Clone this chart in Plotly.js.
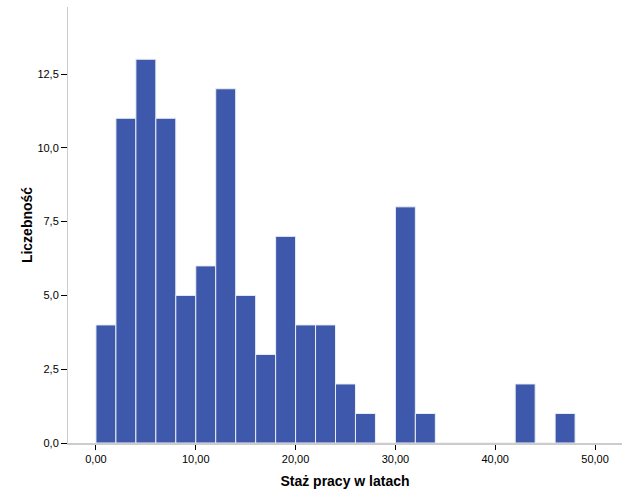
<!DOCTYPE html>
<html>
<head>
<meta charset="utf-8">
<script src="https://cdn.plot.ly/plotly-3.0.1.min.js"></script>
<style>html,body{margin:0;padding:0;background:#fff;}#chart{width:629px;height:504px;}</style>
</head>
<body>
<div id="chart"></div>
<script>
// Bin starts (years) and counts, bin width 2
const binStarts = [0, 2, 4, 6, 8, 10, 12, 14, 16, 18, 20, 22, 24, 26, 28, 30, 32, 34, 36, 38, 40, 42, 44, 46];
const counts    = [4, 11, 13, 11, 5, 6, 12, 5, 3, 7, 4, 4, 2, 1, 0, 8, 1, 0, 0, 0, 0, 2, 0, 1];
const binWidth = 2;
const xTickVals = [0, 10, 20, 30, 40, 50];
const yTickVals = [0, 2.5, 5, 7.5, 10, 12.5];

const centers = binStarts.map(s => s + binWidth / 2);

const trace = {
  type: 'bar',
  x: centers,
  y: counts,
  width: binWidth,
  marker: { color: 'rgb(62,88,171)', line: { color: 'rgba(235,238,245,1)', width: 1 } },
  hoverinfo: 'x+y'
};

const layout = {
  width: 629, height: 504,
  margin: { l: 68, r: 7, t: 7, b: 61 },
  paper_bgcolor: '#fff', plot_bgcolor: '#fff',
  separators: ', ',
  font: { family: 'Liberation Sans, Arial, sans-serif', size: 11, color: '#000' },
  showlegend: false,
  bargap: 0,
  xaxis: {
    range: [-2.8, 52.7],
    tickvals: xTickVals,
    tickformat: '.2f',
    showgrid: false, zeroline: false,
    showline: true, linecolor: '#cccccc', linewidth: 2,
    ticks: 'outside', ticklen: 5, tickcolor: '#000', tickwidth: 1,
    title: { text: '<b>Staż pracy w latach</b>', font: { size: 14, family: 'Liberation Sans, Arial, sans-serif' }, standoff: 12 }
  },
  yaxis: {
    range: [0, 14.77],
    tickvals: yTickVals,
    tickformat: '.1f',
    showgrid: false, zeroline: false,
    showline: true, linecolor: '#cccccc', linewidth: 1,
    ticks: 'outside', ticklen: 6, tickcolor: '#000', tickwidth: 1,
    title: { text: '<b>Liczebność</b>', font: { size: 14, family: 'Liberation Sans, Arial, sans-serif' }, standoff: 1 }
  }
};

Plotly.newPlot('chart', [trace], layout, { displayModeBar: false, staticPlot: true });
</script>
</body>
</html>
